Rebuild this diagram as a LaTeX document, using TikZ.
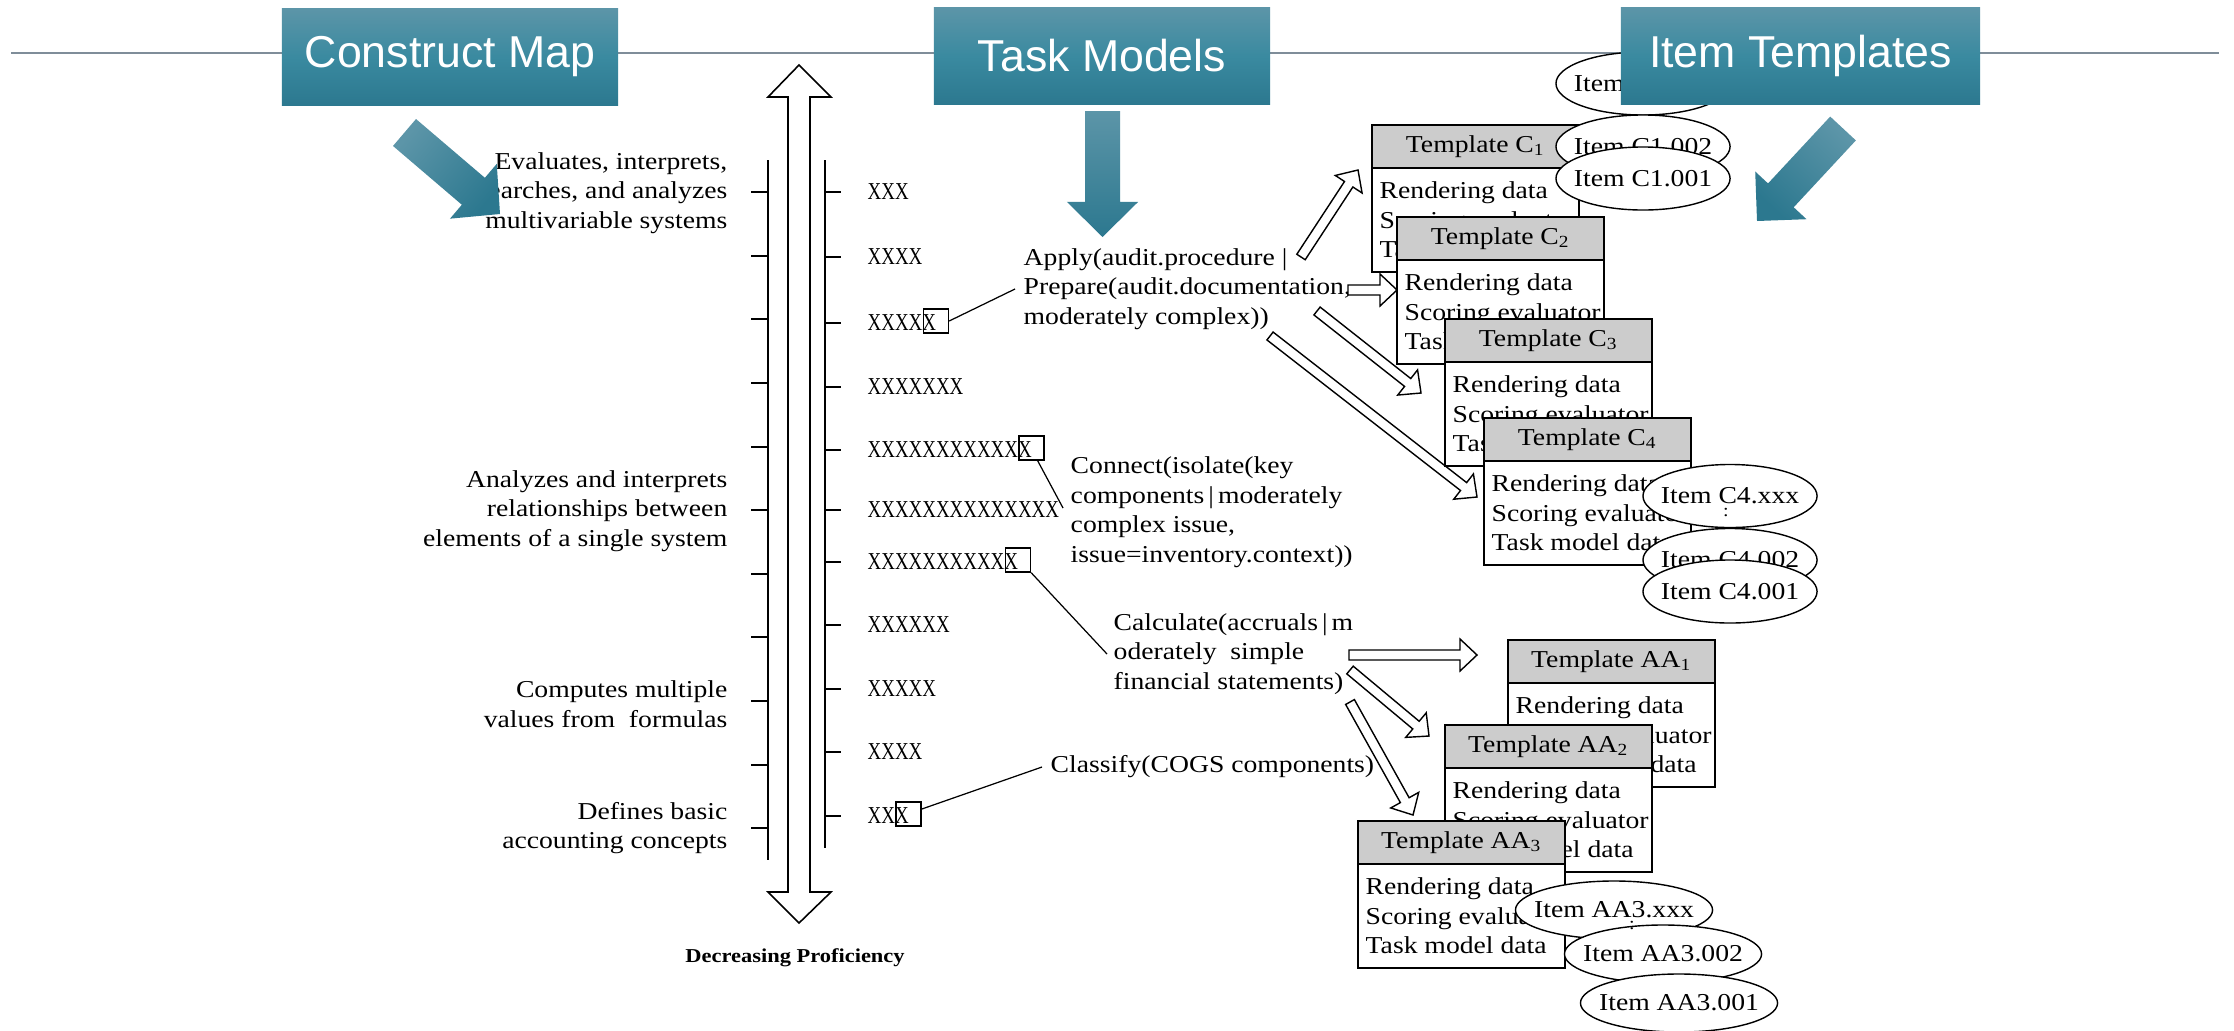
\documentclass[tikz,border=0pt]{standalone}
\usepackage{fontspec}
\setmainfont{Liberation Serif}[FakeStretch=1.14]
\newfontfamily\hdfont{Liberation Sans}
\newfontfamily\xfont{Liberation Serif}[FakeStretch=0.78]
\usetikzlibrary{calc,shapes.geometric}
\definecolor{teallight}{HTML}{5C95A8}
\definecolor{tealmid}{HTML}{3A8AA0}
\definecolor{tealdark}{HTML}{2C788F}
\definecolor{rulegray}{HTML}{7F8D99}
\definecolor{headgray}{HTML}{CCCCCC}
% block arrow: #1 tail, #2 tip, #3 style, #4 shaft half width, #5 head half width, #6 head length
\newcommand\blockarr[6]{%
  \coordinate (bac) at ($(#2)!#6!(#1)$);
  \path[#3] ($(#1)!#4!90:(#2)$) -- ($(bac)!#4!90:(#2)$) -- ($(bac)!#5!90:(#2)$) -- (#2)
     -- ($(bac)!#5!-90:(#2)$) -- ($(bac)!#4!-90:(#2)$) -- ($(#1)!#4!-90:(#2)$) -- cycle;}
% template box: #1 name, #2 x, #3 y (top), #4 title
\newcommand\tmplbox[4]{%
  \node[tbody] (#1b) at (#2,#3+43) {};
  \node[btxt] (#1t) at ($(#1b.west)+(8,0)$) {Rendering data\\Scoring evaluator\\Task model data};
  \node[thead] (#1h) at (#2,#3) {#4};}
\begin{document}
\begin{tikzpicture}[x=0.01cm, y=-0.01cm,
  txt/.style={font=\fontsize{6.9}{8.4}\selectfont, inner sep=0pt},
  lab/.style={txt, align=right, anchor=east},
  tmtxt/.style={txt, align=left, anchor=west},
  btxt/.style={txt, align=left, anchor=west},
  xrow/.style={font=\xfont\fontsize{6.9}{8.4}\selectfont, inner sep=0pt, anchor=west},
  xbox/.style={draw, line width=0.4pt, minimum width=0.25cm, minimum height=0.24cm, inner sep=0pt, anchor=west},
  hdbox/.style={minimum height=0.97cm, inner sep=0pt, top color=teallight, bottom color=tealdark, middle color=tealmid, text=white, font=\hdfont\fontsize{12.7}{14}\selectfont},
  tealarrow/.style={top color=teallight, bottom color=tealdark},
  hollow/.style={draw, fill=white, line width=0.4pt},
  thead/.style={draw, line width=0.6pt, fill=headgray, minimum width=2.07cm, minimum height=0.43cm, inner sep=0pt, anchor=north west, txt},
  tbody/.style={draw, line width=0.45pt, fill=white, minimum width=2.07cm, minimum height=1.04cm, inner sep=0pt, anchor=north west},
  ellC/.style={ellipse, draw, line width=0.4pt, fill=white, minimum width=1.74cm, minimum height=0.63cm, inner sep=0pt, label={[txt]center:#1}},
  ellA/.style={ellipse, draw, line width=0.4pt, fill=white, minimum width=1.97cm, minimum height=0.58cm, inner sep=0pt, label={[txt]center:#1}},
  conn/.style={line width=0.35pt}
]
\fill[white] (0,0) rectangle (2234,1030);
\useasboundingbox (0,0) rectangle (2234,1030);

% top rule
\coordinate (ruleL) at (11,53);
\coordinate (ruleR) at (2219,53);
\draw[rulegray, line width=0.6pt] (ruleL) -- (ruleR);

% construct map labels
\node[lab] (lab1) at (728,193) {Evaluates, interprets,\\searches, and analyzes\\multivariable systems};
\node[lab] (lab2) at (728,511) {Analyzes and interprets\\relationships between\\elements of a single system};
\node[lab] (lab3) at (728,704) {Computes multiple\\values from\ \ formulas};
\node[lab] (lab4) at (728,828) {Defines basic\\accounting concepts};

% double arrow
\draw[fill=white, line width=0.45pt] (799,65) -- (831,97) -- (810,97) -- (810,892) -- (831,892) -- (799,923)
   -- (768,892) -- (788,892) -- (788,97) -- (768,97) -- cycle;
\draw[line width=0.45pt] (768,160) -- (768,860);
\draw[line width=0.45pt] (825,160) -- (825,848);
\foreach \t in {192,256,319,383,447,510,574,637,701,765,828}
  \draw[line width=0.45pt] (751,\t) -- (768,\t);
\foreach \t in {192,257,323,387,450,510,562,625,689,752,816}
  \draw[line width=0.45pt] (825,\t) -- (841,\t);
\node[font=\bfseries\fontsize{5.6}{7}\selectfont, inner sep=0pt] (dp) at (795,958) {Decreasing Proficiency};

% x rows
\node[xrow] (r1) at (867,192) {XXX};
\node[xrow] (r2) at (867,257) {XXXX};
\node[xrow] (r3) at (867,323) {XXXXX};
\node[xrow] (r4) at (867,387) {XXXXXXX};
\node[xrow] (r5) at (867,450) {XXXXXXXXXXXX};
\node[xrow] (r6) at (867,510) {XXXXXXXXXXXXXX};
\node[xrow] (r7) at (867,562) {XXXXXXXXXXX};
\node[xrow] (r8) at (867,625) {XXXXXX};
\node[xrow] (r9) at (867,689) {XXXXX};
\node[xrow] (r10) at (867,752) {XXXX};
\node[xrow] (r11) at (867,816) {XXX};
\node[xbox] (b3) at ($(r3.east)+(-14,-2)$) {};
\node[xbox] (b5) at ($(r5.east)+(-14,-2)$) {};
\node[xbox] (b7) at ($(r7.east)+(-14,-2)$) {};
\node[xbox] (b11) at ($(r11.east)+(-14,-2)$) {};

% task model texts
\node[tmtxt] (apply) at (1023,289) {Apply(audit.procedure |\\Prepare(audit.documentation,\\moderately complex))};
\node[tmtxt] (connect) at (1070,512) {Connect(isolate(key\\components\,|\,moderately\\complex issue,\\issue=inventory.context))};
\node[tmtxt] (calc) at (1113,654) {Calculate(accruals\,|\,m\\oderately\ \ simple\\financial statements)};
\node[tmtxt] (classify) at (1050,767) {Classify(COGS components)};

% connectors
\draw[conn] (b3.east) -- ($(apply.west)+(-8,0)$);
\draw[conn] ($(b5.south)+(6,0)$) -- ($(connect.west)+(-7,-4)$);
\draw[conn] (b7.south east) -- ($(calc.west)+(-6,0)$);
\draw[conn] ($(b11.east)+(0,-5)$) -- ($(classify.west)+(-8,0)$);

% hollow arrows
\coordinate (a1s) at (1301,257); \coordinate (a1e) at (1358,170);
\coordinate (a2s) at (1348,290); \coordinate (a2e) at (1397,290);
\coordinate (a3s) at (1317,311); \coordinate (a3e) at (1421,393);
\coordinate (a4s) at (1270,336); \coordinate (a4e) at (1477,497);
\coordinate (b1s) at (1349,655); \coordinate (b1e) at (1477,655);
\coordinate (b2s) at (1350,670); \coordinate (b2e) at (1429,736);
\coordinate (b3s) at (1350,702); \coordinate (b3e) at (1413,815);
\blockarr{a1s}{a1e}{hollow}{0.05cm}{0.16cm}{0.17cm}
\blockarr{a2s}{a2e}{hollow}{0.05cm}{0.16cm}{0.17cm}
\blockarr{a3s}{a3e}{hollow}{0.05cm}{0.16cm}{0.17cm}
\blockarr{a4s}{a4e}{hollow}{0.05cm}{0.16cm}{0.17cm}
\blockarr{b1s}{b1e}{hollow}{0.05cm}{0.16cm}{0.17cm}
\blockarr{b2s}{b2e}{hollow}{0.05cm}{0.16cm}{0.17cm}
\blockarr{b3s}{b3e}{hollow}{0.05cm}{0.16cm}{0.17cm}

% templates C
\tmplbox{c1}{1371}{124}{Template C\textsubscript{1}}
\tmplbox{c2}{1396}{216}{Template C\textsubscript{2}}
\tmplbox{c3}{1444}{318}{Template C\textsubscript{3}}
\tmplbox{c4}{1483}{417}{Template C\textsubscript{4}}

\node[ellC={Item C1.xxx}] (ic1x) at (1643,83.5) {};
\node[ellC={Item C1.002}] (ic1b) at (1643,146.5) {};
\node[ellC={Item C1.001}] (ic1a) at (1643,178.5) {};
\node[ellC={Item C4.xxx}] (ic4x) at (1730,496) {};
\node[ellC={Item C4.002}] (ic4b) at (1730,560) {};
\node[ellC={Item C4.001}] (ic4a) at (1730,591.5) {};

% templates AA
\tmplbox{aa1}{1507}{639}{Template AA\textsubscript{1}}
\tmplbox{aa2}{1444}{724}{Template AA\textsubscript{2}}
\tmplbox{aa3}{1357}{820}{Template AA\textsubscript{3}}

\node[ellA={Item AA3.xxx}] (ia3x) at (1614,910) {};
\node[ellA={Item AA3.002}] (ia3b) at (1663,954) {};
\node[ellA={Item AA3.001}] (ia3a) at (1679,1003) {};

\node[txt, font=\fontsize{5}{6}\selectfont] (dots1) at (1726,512) {:};
\node[txt, font=\fontsize{5}{6}\selectfont] (dots2) at (1632,925) {:};

% teal arrows
\coordinate (cmA) at (404.5,132.5); \coordinate (cmB) at (500,214);
\coordinate (tmA) at (1102.5,111); \coordinate (tmB) at (1102.5,237);
\coordinate (itA) at (1843,128.5); \coordinate (itB) at (1757,221);
\blockarr{cmA}{cmB}{tealarrow, shading angle=50}{0.177cm}{0.36cm}{0.35cm}
\blockarr{tmA}{tmB}{tealarrow}{0.175cm}{0.355cm}{0.35cm}
\blockarr{itA}{itB}{tealarrow, shading angle=-43}{0.175cm}{0.35cm}{0.35cm}

% headers
\node[hdbox, minimum width=3.36cm] (hcm) at (450,57) {Construct Map};
\node[hdbox, minimum width=3.36cm] (htm) at (1102,56) {Task Models};
\node[hdbox, minimum width=3.59cm] (hit) at (1800.5,56) {Item Templates};
\end{tikzpicture}
\end{document}
